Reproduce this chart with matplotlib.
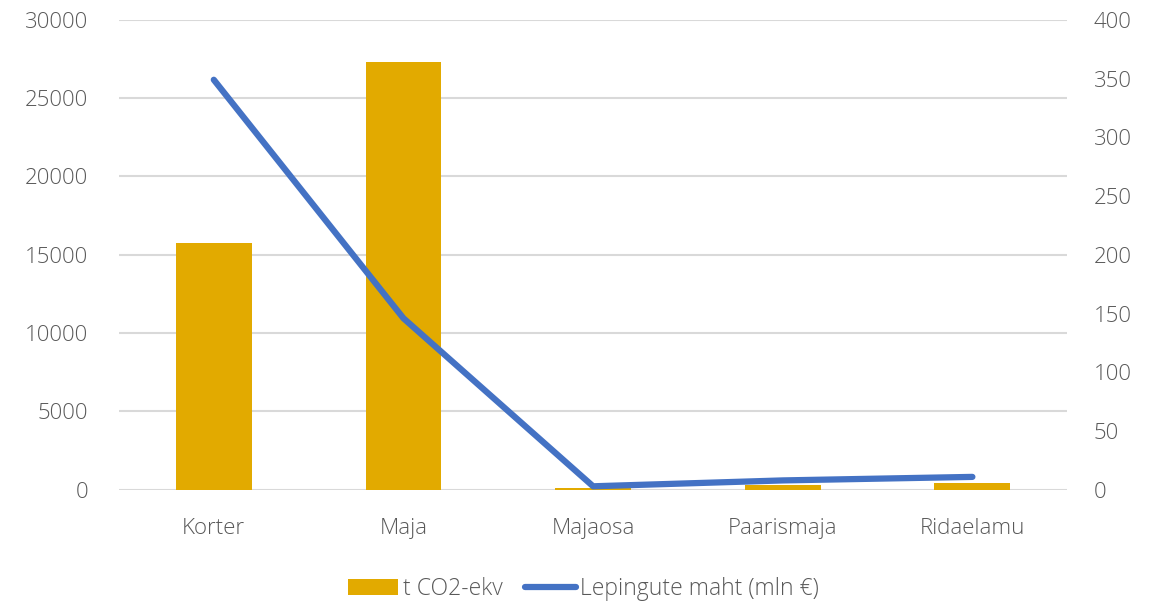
import matplotlib
matplotlib.use("Agg")
import matplotlib.pyplot as plt
import numpy as np

categories = ["Korter", "Maja", "Majaosa", "Paarismaja", "Ridaelamu"]
co2 = [15780, 27320, 100, 300, 430]
lepingud = [349, 146, 3, 8, 11]

plt.rcParams['font.family'] = ['Open Sans', 'DejaVu Sans']
plt.rcParams['font.weight'] = 'light'
txt = '#595959'
fs = 16

fig = plt.figure(figsize=(11.55, 6.01), dpi=100)
ax = fig.add_axes([0.103, 0.185, 0.821, 0.782])
ax2 = ax.twinx()

x = np.arange(len(categories))
ax.bar(x, co2, width=0.4, color='#E2AA00', label='t CO2-ekv', zorder=2)
ax2.plot(x, lepingud, color='#4472C4', lw=4.5, solid_capstyle='round', label='Lepingute maht (mln €)', zorder=3)

ax.set_xlim(-0.5, len(categories) - 0.5)
ax.set_ylim(0, 30000)
ax2.set_ylim(0, 400)
ax.set_yticks(np.arange(0, 30001, 5000))
ax2.set_yticks(np.arange(0, 401, 50))
ax.set_xticks(x)
ax.set_xticklabels(categories)
ax.yaxis.grid(True, color='#D9D9D9', lw=1.5, zorder=0)
ax.set_axisbelow(True)
for a in (ax, ax2):
    for s in a.spines.values():
        s.set_visible(False)
    a.tick_params(length=0, labelsize=fs, colors=txt)
ax.tick_params(axis='y', pad=22)
ax2.tick_params(axis='y', pad=19)
ax.tick_params(axis='x', pad=20)

h1, l1 = ax.get_legend_handles_labels()
h2, l2 = ax2.get_legend_handles_labels()
fig.legend(h1 + h2, l1 + l2, loc='lower center', bbox_to_anchor=(0.505, -0.035), ncol=2,
           frameon=False, fontsize=fs + 0.5, labelcolor=txt, handlelength=2.2, handletextpad=0.2,
           columnspacing=1.0)

fig.savefig('out.png', dpi=100)
